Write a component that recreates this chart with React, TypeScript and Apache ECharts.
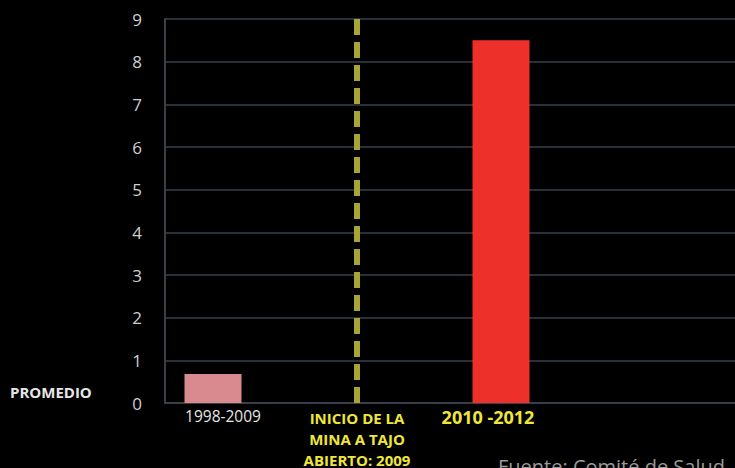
import React, { useEffect, useRef } from "react";
import * as echarts from "echarts";

const categories = ["1998-2009", "", "", "2010 -2012", "", ""];
const promedio = [0.68, null, null, 8.5, null, null];
const barColors = ["#d98a8f", "#ee302b"];
const yTicks = [0, 1, 2, 3, 4, 5, 6, 7, 8, 9];
const markerPos = 2; // boundary position (in category units) of the dashed marker
const markerLabel = "INICIO DE LA\nMINA A TAJO\nABIERTO: 2009";
const rowLabel = "PROMEDIO";
const sourceText = "Fuente: Comité de Salud";

export default function App() {
  const ref = useRef<HTMLDivElement>(null);
  useEffect(() => {
    if (!ref.current) return;
    const chart = echarts.init(ref.current, null, { renderer: "svg" });
    const font = "'Open Sans', sans-serif";
    chart.setOption({
      animation: false,
      backgroundColor: "#000000",
      textStyle: { fontFamily: font },
      grid: { left: 165, top: 19, height: 384, width: 576, outerBoundsMode: "none", containLabel: false },
      xAxis: [
        {
          type: "category",
          data: categories.map((c, i) =>
            i === 3
              ? {
                  value: c,
                  textStyle: { color: "#f0e63a", fontSize: 18, fontWeight: "bold", padding: [0, 26, 0, 0] },
                }
              : { value: c }
          ),
          axisLine: { show: true, lineStyle: { color: "#3a4049", width: 2 } },
          axisTick: { show: false },
          axisLabel: {
            color: "#e6e6e6",
            fontSize: 15.5,
            margin: 5,
            fontFamily: font,
            interval: 0,
            padding: [0, 0, 0, 20],
          },
        },
        {
          type: "value",
          min: 0,
          max: categories.length,
          show: false,
        },
      ],
      yAxis: {
        type: "value",
        min: yTicks[0],
        max: yTicks[yTicks.length - 1],
        interval: 1,
        axisLine: { show: true, lineStyle: { color: "#3a4049", width: 2 } },
        axisTick: { show: false },
        axisLabel: { color: "#cfcfcf", fontSize: 17, margin: 23, fontFamily: font },
        splitLine: { lineStyle: { color: "#39404a", width: 1.5 } },
      },
      series: [
        {
          type: "bar",
          xAxisIndex: 0,
          data: promedio.map((v, i) =>
            v == null ? null : { value: v, itemStyle: { color: i === 0 ? barColors[0] : barColors[1] } }
          ),
          barWidth: 57,
        },
        {
          type: "line",
          xAxisIndex: 1,
          data: [
            [markerPos, yTicks[0]],
            [markerPos, yTicks[yTicks.length - 1]],
          ],
          symbol: "none",
          lineStyle: { color: "#a9a535", width: 6, type: [16, 7] },
          z: 5,
        },
        {
          type: "scatter",
          xAxisIndex: 1,
          symbolSize: 1,
          clip: false,
          itemStyle: { color: "rgba(0,0,0,0)", opacity: 1 },
          data: [[markerPos, yTicks[0]]],
          label: {
            show: true,
            position: "bottom",
            distance: 4,
            formatter: markerLabel,
            color: "#f0e63a",
            fontSize: 15,
            fontWeight: "bold",
            lineHeight: 21,
            align: "center",
            fontFamily: font,
          },
          z: 6,
        },
      ],
      graphic: [
        {
          type: "text",
          left: 10,
          top: 384,
          style: { text: rowLabel, fill: "#e6e6e6", fontSize: 15, fontWeight: "bold", fontFamily: font },
        },
        {
          type: "text",
          left: 498,
          top: 456,
          style: { text: sourceText, fill: "#9a9a9a", fontSize: 20, fontFamily: font },
        },
      ],
    });
    return () => chart.dispose();
  }, []);
  return <div ref={ref} style={{ width: 735, height: 468, position: "fixed", left: 0, top: 0 }} />;
}
